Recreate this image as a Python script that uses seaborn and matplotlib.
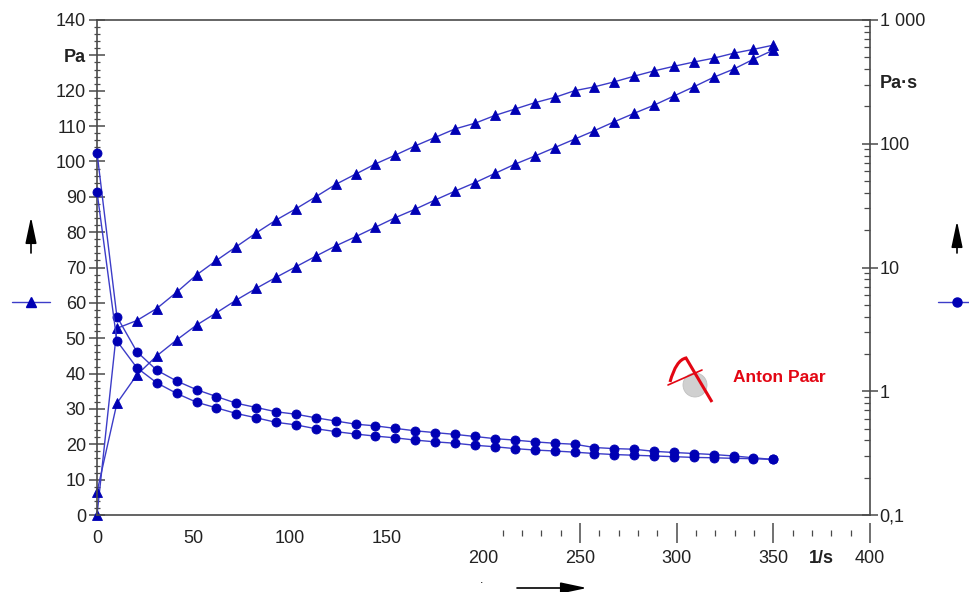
import matplotlib
matplotlib.use("Agg")
import matplotlib.pyplot as plt
import seaborn as sns
from matplotlib.lines import Line2D
from matplotlib.patches import Circle, FancyArrowPatch, PathPatch
from matplotlib.path import Path
from matplotlib.transforms import IdentityTransform
from matplotlib.ticker import NullFormatter, LogLocator, MultipleLocator


# ---------- data ----------
shear_rate = [0, 10.3, 20.6, 30.9, 41.2, 51.5, 61.8, 72.1, 82.4, 92.6,
              102.9, 113.2, 123.5, 133.8, 144.1, 154.4, 164.7, 175.0, 185.3, 195.6,
              205.9, 216.2, 226.5, 236.8, 247.1, 257.4, 267.6, 277.9, 288.2, 298.5,
              308.8, 319.1, 329.4, 339.7, 350.0]

# shear stress, Pa (triangles, left axis)
stress_up = [0, 52.8, 55.0, 58.4, 63.0, 67.9, 72.0, 75.9, 79.8, 83.4,
             86.6, 90.0, 93.5, 96.4, 99.3, 101.8, 104.4, 106.8, 109.2, 110.8,
             113.0, 114.8, 116.6, 118.1, 120.0, 121.1, 122.5, 124.1, 125.6, 126.9,
             128.1, 129.2, 130.6, 131.7, 132.9]
stress_down = [6.5, 31.6, 39.6, 45.0, 49.5, 53.7, 57.2, 60.8, 64.1, 67.2,
               70.2, 73.2, 76.1, 78.7, 81.4, 84.1, 86.5, 89.1, 91.6, 94.0,
               96.6, 99.2, 101.5, 103.9, 106.3, 108.7, 111.2, 113.6, 115.9, 118.5,
               121.1, 123.8, 126.1, 128.9, 131.5]

# viscosity, Pa·s (circles, right log axis)
visc_up = [84.8, 4.01, 2.09, 1.48, 1.21, 1.03, 0.906, 0.80, 0.739, 0.683,
           0.652, 0.610, 0.575, 0.542, 0.525, 0.501, 0.479, 0.463, 0.448, 0.431,
           0.414, 0.403, 0.390, 0.380, 0.373, 0.351, 0.344, 0.340, 0.327, 0.320,
           0.314, 0.308, 0.300, 0.290, 0.281]
visc_down = [41.1, 2.55, 1.55, 1.17, 0.961, 0.815, 0.734, 0.661, 0.610, 0.561,
             0.535, 0.498, 0.472, 0.451, 0.434, 0.420, 0.403, 0.390, 0.380, 0.366,
             0.356, 0.344, 0.335, 0.329, 0.322, 0.314, 0.308, 0.304, 0.300, 0.296,
             0.292, 0.290, 0.287, 0.285, 0.281]

# axis labels (units sit in place of a tick label, Anton Paar style)
left_ticks = [0, 10, 20, 30, 40, 50, 60, 70, 80, 90, 100, 110, 120, 130, 140]
left_labels = ["0", "10", "20", "30", "40", "50", "60", "70", "80", "90",
               "100", "110", "120", "Pa", "140"]
right_ticks = [0.1, 1, 10, 100, 316, 1000]
right_labels = ["0,1", "1", "10", "100", "Pa·s", "1 000"]
x_ticks_top = [0, 50, 100, 150, 200]
x_labels_top = ["0", "50", "100", "150", ""]
x_ticks_low = [200, 250, 300, 350, 375, 400]
x_labels_low = ["200", "250", "300", "350", "1/s", "400"]

# ---------- style ----------
MARK = "#0000b4"
LINE = "#3c3cc8"
AXC = "#4a4a4a"
TXT = "#222222"
RED = "#e30613"
W, H = 970, 592

sns.set_style("white")
plt.rcParams["font.family"] = ["Liberation Sans", "DejaVu Sans"]

fig = plt.figure(figsize=(W / 100, H / 100), dpi=100)
ax = fig.add_axes([97 / W, (H - 515) / H, (870 - 97) / W, 495 / H])
ax2 = ax.twinx()
ax2.set_yscale("log")

line_kw = dict(color=LINE, linewidth=1.0, markeredgecolor=MARK, markerfacecolor=MARK,
               markeredgewidth=0.6, clip_on=False, errorbar=None)
sns.lineplot(x=shear_rate, y=stress_up, ax=ax, marker="^", markersize=7.5, **line_kw)
sns.lineplot(x=shear_rate, y=stress_down, ax=ax, marker="^", markersize=7.5, **line_kw)
sns.lineplot(x=shear_rate, y=visc_up, ax=ax2, marker="o", markersize=6.5, **line_kw)
sns.lineplot(x=shear_rate, y=visc_down, ax=ax2, marker="o", markersize=6.5, **line_kw)

ax.set_xlim(0, 400)
ax.set_ylim(0, 140)
ax2.set_ylim(0.1, 1000)
ax.set_xlabel("")
ax.set_ylabel("")
ax2.set_ylabel("")

# spines
for s in ["left", "bottom", "top"]:
    ax.spines[s].set_color(AXC)
    ax.spines[s].set_linewidth(1.2)
ax.spines["right"].set_visible(False)
for s in ["left", "bottom", "top"]:
    ax2.spines[s].set_visible(False)
ax2.spines["right"].set_color(AXC)
ax2.spines["right"].set_linewidth(1.2)

# left axis ticks
ax.set_yticks(left_ticks, left_labels)
ax.yaxis.set_minor_locator(MultipleLocator(2))
ax.tick_params(axis="y", which="major", direction="inout", length=12, width=1.1,
               color=AXC, labelcolor=TXT, labelsize=13, pad=2)
ax.tick_params(axis="y", which="minor", direction="inout", length=5, width=0.9, color=AXC)
ax.get_yticklabels()[13].set_fontweight("bold")

# bottom axis, first row (0..200)
ax.set_xticks(x_ticks_top, x_labels_top)
ax.set_xticks([v for v in range(10, 200, 10) if v % 50], minor=True)
ax.tick_params(axis="x", which="major", direction="inout", length=14, width=1.1,
               color=AXC, labelcolor=TXT, labelsize=13, pad=4)
ax.tick_params(axis="x", which="minor", direction="in", length=5, width=0.9, color=AXC)

# bottom axis, second row (200..400)
sec = ax.secondary_xaxis(-18 / 495)
sec.spines["bottom"].set_visible(False)
sec.set_xticks(x_ticks_low, x_labels_low)
sec.set_xticks([v for v in range(210, 400, 10) if v % 50], minor=True)
sec.tick_params(axis="x", which="major", direction="inout", length=15, width=1.1,
                color=AXC, labelcolor=TXT, labelsize=13, pad=5)
sec.tick_params(axis="x", which="minor", direction="inout", length=5, width=0.9, color=AXC)
low_ticks = sec.xaxis.get_major_ticks()
for i in (0, 4):
    low_ticks[i].tick1line.set_visible(False)
sec.get_xticklabels()[4].set_fontweight("bold")

# right log axis
ax2.set_yticks(right_ticks, right_labels)
ax2.yaxis.set_minor_locator(LogLocator(base=10, subs=(2, 3, 4, 5, 6, 7, 8, 9)))
ax2.yaxis.set_minor_formatter(NullFormatter())
ax2.tick_params(axis="y", which="major", direction="inout", length=12, width=1.1,
                color=AXC, labelcolor=TXT, labelsize=13, pad=1)
ax2.tick_params(axis="y", which="minor", direction="in", length=4, width=0.9, color=AXC)
ax2.yaxis.get_major_ticks()[4].tick2line.set_visible(False)
ax2.get_yticklabels()[4].set_fontweight("bold")

# ---------- decorations in pixel coordinates ----------
pix = IdentityTransform()


def P(x, y):
    return x, H - y


# legend glyphs
fig.add_artist(Line2D([12, 50], [H - 302, H - 302], transform=pix, color=LINE, lw=1.0))
fig.add_artist(Line2D([31], [H - 302], transform=pix, marker="^", markersize=7.5,
                      color=MARK, linestyle="none"))
fig.add_artist(Line2D([938, 970], [H - 302, H - 302], transform=pix, color=LINE, lw=1.0))
fig.add_artist(Line2D([957], [H - 302], transform=pix, marker="o", markersize=6.5,
                      color=MARK, linestyle="none"))

# direction arrows
arrow_kw = dict(transform=pix, arrowstyle="-|>,head_length=0.8,head_width=0.17",
                mutation_scale=20, color="black", lw=1.2, shrinkA=0, shrinkB=0)
fig.add_artist(FancyArrowPatch(P(31, 253), P(31, 217), **arrow_kw))
fig.add_artist(FancyArrowPatch(P(957, 253), P(957, 221), **arrow_kw))
fig.add_artist(FancyArrowPatch(P(517, 588), P(587, 588), **arrow_kw))
fig.text(482 / W, (H - 586) / H, ".", fontsize=9, color="black", ha="center", va="bottom")

# Anton Paar logo
fig.add_artist(Circle(P(695, 385), 12, transform=pix, facecolor="#d0d0d0",
                      edgecolor="#c0c0c0", lw=0.6))
swoosh = Path([P(670, 382), P(676, 360), P(686, 358), P(712, 402)],
              [Path.MOVETO, Path.CURVE3, Path.CURVE3, Path.LINETO])
fig.add_artist(PathPatch(swoosh, transform=pix, facecolor="none", edgecolor=RED, lw=2.2))
fig.add_artist(Line2D([668, 702], [H - 385, H - 370], transform=pix, color=RED, lw=1.2))
fig.text(779 / W, (H - 377) / H, "Anton Paar", color=RED, fontsize=12.5,
         fontweight="bold", ha="center", va="center")

fig.savefig("out.png", dpi=100)
